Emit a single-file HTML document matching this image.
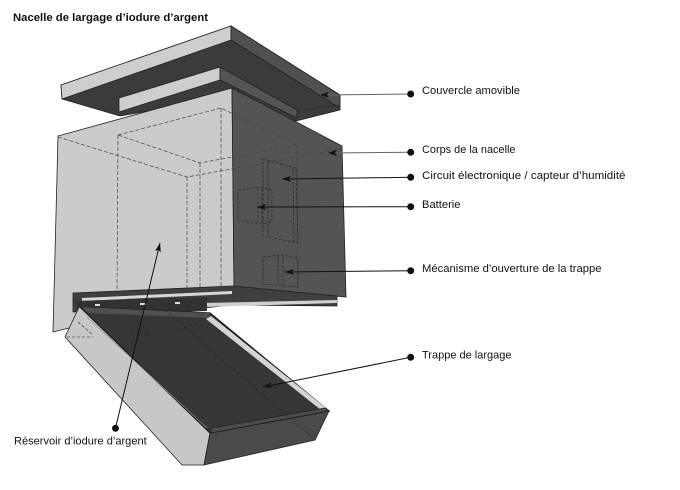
<!DOCTYPE html>
<html>
<head>
<meta charset="utf-8">
<style>
  html,body{margin:0;padding:0;background:#fff;}
  body{width:680px;height:490px;overflow:hidden;}
  svg{display:block;}
  text{font-family:"Liberation Sans", sans-serif;fill:#111;}
</style>
</head>
<body>
<svg width="680" height="490" viewBox="0 0 680 490" xmlns="http://www.w3.org/2000/svg">
  <defs>
    <marker id="ah" markerWidth="9" markerHeight="6" refX="9" refY="3" orient="auto-start-reverse" markerUnits="userSpaceOnUse">
      <path d="M0,0 L9,3 L0,6 L2,3 z" fill="#111"/>
    </marker>
  </defs>
  <rect x="0" y="0" width="680" height="490" fill="#fff"/>

  <!-- Title -->
  <text x="13" y="21" font-size="11" font-weight="bold" textLength="195" lengthAdjust="spacingAndGlyphs">Nacelle de largage d’iodure d’argent</text>

  <!-- ===== LID ===== -->
  <polygon points="61,85 231,26 340,95 340,110 296,121 232,96 120,116 62,99" fill="#3b3b3b" stroke="#1e1e1e" stroke-width="0.8"/>
  <polygon points="61,85 231,26 231,40 62,99" fill="#cecece" stroke="#222" stroke-width="0.8"/>
  <polygon points="231,26 340,95 340,108 231,40" fill="#505050" stroke="#222" stroke-width="0.8"/>
  <line x1="283" y1="113" x2="340" y2="105" stroke="#222" stroke-width="0.6" stroke-dasharray="3 2"/>
  <!-- small plate -->
  <polygon points="119,98 220,67 220,80 119,112" fill="#cecece" stroke="#222" stroke-width="0.8"/>
  <polygon points="220,67 297,110 297,118 220,80" fill="#555" stroke="#222" stroke-width="0.8"/>

  <!-- ===== BODY ===== -->
  <polygon points="58,136 232,88 234,287 53,332" fill="#cbcbcb" stroke="#222" stroke-width="0.8"/>
  <polygon points="232,88 342,146 346,297 234,287" fill="#545454" stroke="#222" stroke-width="0.8"/>

  <!-- hidden edges (body) -->
  <g fill="none" stroke="#444" stroke-width="0.7" stroke-dasharray="4 2">
    <polyline points="58,137 187,177 342,149"/>
    <line x1="187" y1="177" x2="187" y2="293"/>
    <polygon points="118,135 221,108 297,145 200,163"/>
    <line x1="118" y1="135" x2="117" y2="296"/>
    <line x1="200" y1="163" x2="200" y2="294"/>
    <line x1="221" y1="108" x2="221" y2="288"/>
    <line x1="297" y1="145" x2="298" y2="288"/>
  </g>
  <!-- components on dark face -->
  <g fill="none" stroke="#2a2a2a" stroke-width="0.7" stroke-dasharray="3 1.5">
    <polygon points="263,159 296,168 298,243 263,236"/>
    <line x1="268" y1="161" x2="268" y2="237"/>
    <line x1="293" y1="168" x2="294" y2="242"/>
    <polygon points="238,190 260,187 272,190 272,222 260,224 238,220"/>
    <line x1="258" y1="188" x2="258" y2="223"/>
    <line x1="262" y1="188" x2="262" y2="224"/>
    <polygon points="263,257 282,255 298,258 298,287 263,284"/>
    <line x1="278" y1="256" x2="278" y2="285"/>
    <line x1="283" y1="256" x2="283" y2="286"/>
  </g>

  <!-- ===== FRAME / TRAP MECHANISM ===== -->
  <polygon points="73,293 233,286 337,296 337,306 233,305 203,308 73,312" fill="#3f3f3f" stroke="#1e1e1e" stroke-width="0.8"/>
  <polygon points="82,298 232,291 232,294 82,301" fill="#d8d8d8"/>
  <polygon points="203,303 337,300 337,303 203,307" fill="#d0d0d0"/>
  <polygon points="75,301 207,297 207,311 80,315" fill="#323232"/>
  <rect x="95" y="304" width="5" height="2" fill="#ddd"/>
  <rect x="140" y="303" width="6" height="2" fill="#ddd"/>
  <rect x="175" y="302" width="5" height="2" fill="#ddd"/>

  <!-- ===== RESERVOIR ===== -->
  <polygon points="80,305 65,337 182,465 204,465 210,433" fill="#c7c7c7" stroke="#222" stroke-width="0.8"/>
  <polygon points="210,433 329,411 315,440 204,465" fill="#4a4a4a" stroke="#222" stroke-width="0.8"/>
  <polygon points="80,307 210,313 329,411 210,433" fill="#363636" stroke="#1a1a1a" stroke-width="1.2"/>
  <polygon points="82,307 210,313 208,318 88,313" fill="#505050"/>
  <polygon points="211,316 326,408 321,410 206,319" fill="#d4d4d4"/>
  <polygon points="212,428 325,408 329,411 210,433" fill="#4c4c4c" stroke="#1a1a1a" stroke-width="0.6"/>
  <line x1="87" y1="317" x2="207" y2="428" stroke="#8a8a8a" stroke-width="0.7"/>
  <g fill="none" stroke="#222" stroke-width="0.6" stroke-dasharray="3 2">
    <line x1="165" y1="310" x2="313" y2="438"/>
    <line x1="67" y1="337" x2="93" y2="337"/>
    <line x1="78" y1="322" x2="93" y2="335"/>
    <line x1="130" y1="333" x2="150" y2="336"/>
    <line x1="140" y1="322" x2="150" y2="336"/>
    <line x1="180" y1="330" x2="200" y2="322"/>
  </g>

  <!-- ===== CALLOUTS ===== -->
  <g stroke-width="1" fill="none">
    <line x1="320" y1="95" x2="410.7" y2="94" stroke="#666" marker-start="url(#ah)"/>
    <line x1="328" y1="153" x2="410.7" y2="152.3" stroke="#666" marker-start="url(#ah)"/>
    <line x1="282" y1="179" x2="410.7" y2="177.3" stroke="#111" marker-start="url(#ah)"/>
    <line x1="257" y1="207" x2="410.7" y2="206.7" stroke="#111" marker-start="url(#ah)"/>
    <line x1="285" y1="272" x2="410.7" y2="270.7" stroke="#111" marker-start="url(#ah)"/>
    <line x1="263" y1="387" x2="410.7" y2="357.3" stroke="#111" marker-start="url(#ah)"/>
    <line x1="160" y1="243" x2="115.5" y2="428" stroke="#111" marker-start="url(#ah)"/>
  </g>
  <g fill="#111">
    <circle cx="410.7" cy="94" r="3.5"/>
    <circle cx="410.7" cy="152.3" r="3.5"/>
    <circle cx="410.7" cy="177.3" r="3.5"/>
    <circle cx="410.7" cy="206.7" r="3.5"/>
    <circle cx="410.7" cy="270.7" r="3.5"/>
    <circle cx="410.7" cy="357.3" r="3.5"/>
    <circle cx="115.5" cy="428.3" r="3.5"/>
  </g>

  <!-- Labels -->
  <g font-size="11">
    <text x="422" y="94" textLength="98" lengthAdjust="spacingAndGlyphs">Couvercle amovible</text>
    <text x="422" y="153" textLength="93.5" lengthAdjust="spacingAndGlyphs">Corps de la nacelle</text>
    <text x="422" y="179" textLength="203.5" lengthAdjust="spacingAndGlyphs">Circuit électronique / capteur d’humidité</text>
    <text x="422" y="208" textLength="38.5" lengthAdjust="spacingAndGlyphs">Batterie</text>
    <text x="422" y="272" textLength="179.5" lengthAdjust="spacingAndGlyphs">Mécanisme d’ouverture de la trappe</text>
    <text x="422" y="358.5" textLength="89.5" lengthAdjust="spacingAndGlyphs">Trappe de largage</text>
    <text x="14" y="444.3" textLength="132.7" lengthAdjust="spacingAndGlyphs">Réservoir d’iodure d’argent</text>
  </g>
</svg>
</body>
</html>
